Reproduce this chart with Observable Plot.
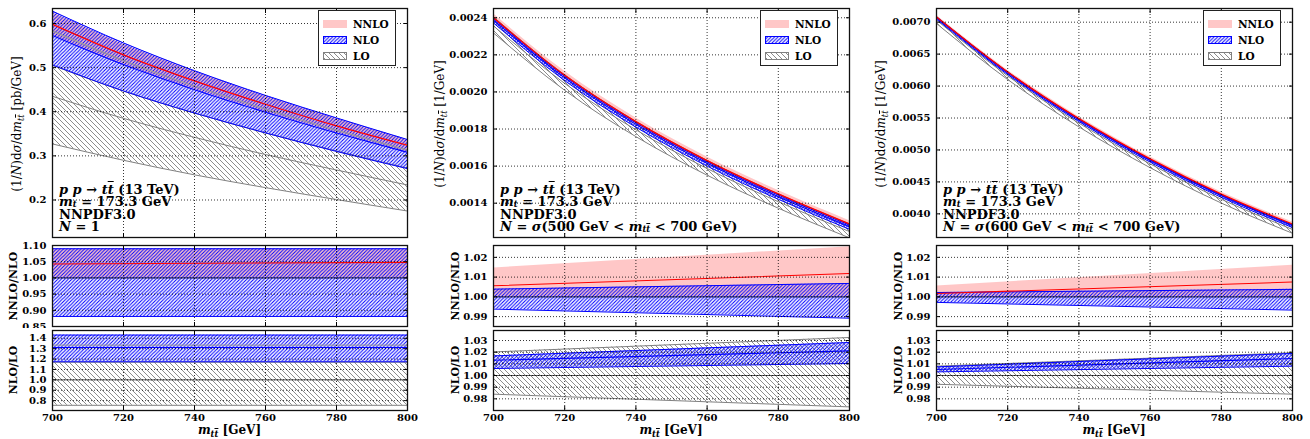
<!DOCTYPE html>
<html><head><meta charset="utf-8">
<script src="https://cdn.jsdelivr.net/npm/d3@7"></script>
<script src="https://cdn.jsdelivr.net/npm/@observablehq/plot@0.6"></script>
<style>
body{margin:0;background:#fff;}
#wrap{position:relative;width:1310px;height:439px;overflow:hidden;font-family:"DejaVu Serif",serif;color:#000;}
.pl{position:absolute;}
.rot{position:absolute;transform:translate(-50%,-50%) rotate(-90deg);white-space:nowrap;line-height:1;}
.ylab{font-size:12px;font-weight:normal;}
.rlab{font-size:11px;font-weight:bold;}
.xlab{position:absolute;transform:translate(-50%,-50%);white-space:nowrap;font-size:12px;font-weight:bold;line-height:1;}
.ann{position:absolute;font-size:13px;font-weight:bold;line-height:11px;height:11px;white-space:nowrap;}
.ann sub{vertical-align:-0.12em;font-size:65%;}
.legend{position:absolute;background:#fff;border:1px solid #222;box-sizing:border-box;}
.lrow{position:absolute;left:4px;height:10px;font-size:10.5px;font-weight:bold;white-space:nowrap;line-height:10px;}
.lrow svg{position:absolute;left:0;top:1px;}
.lrow span{position:absolute;left:30px;top:0;}
sub{font-size:70%;vertical-align:-0.3em;line-height:0;}
.ob{text-decoration:overline;}
</style></head><body><div id="wrap"></div>
<script>
// ---------- data ----------
const mtt = [700, 720, 740, 760, 780, 800];
const mttEnds = [700, 800];
const xTicks = [700, 720, 740, 760, 780, 800];

// Panel 1 : N = 1  [pb/GeV]
const p1LoLower   = [0.327, 0.290, 0.257, 0.228, 0.201, 0.175];
const p1LoCentral = [0.435, 0.385, 0.342, 0.303, 0.268, 0.234];
const p1LoUpper   = [0.505, 0.447, 0.397, 0.352, 0.311, 0.272];
const p1NloLower  = [0.506, 0.447, 0.397, 0.352, 0.310, 0.271];
const p1NloCentral= [0.573, 0.507, 0.450, 0.399, 0.352, 0.308];
const p1NloUpper  = [0.628, 0.556, 0.493, 0.437, 0.386, 0.337];
const p1NnloLower = [0.574, 0.508, 0.451, 0.400, 0.353, 0.309];
const p1NnloCentral=[0.598, 0.529, 0.470, 0.417, 0.368, 0.324];
const p1NnloUpper = [0.625, 0.553, 0.491, 0.435, 0.384, 0.336];
const p1GreyLine  = [0.583, 0.516, 0.458, 0.406, 0.358, 0.313];
// ratios panel 1 (at 700, 800)
const p1R1NloLower = [0.881, 0.881];
const p1R1NloUpper = [1.090, 1.090];
const p1R1NnloLower = [1.000, 1.000];
const p1R1NnloUpper = [1.090, 1.090];
const p1R1NnloCentral = [1.043, 1.048];
const p1R2LoLower = [0.755, 0.755];
const p1R2LoUpper = [1.170, 1.170];
const p1R2NloLower = [1.174, 1.174];
const p1R2NloUpper = [1.431, 1.431];
const p1R2NloCentral = [1.312, 1.312];
const p1R2GreyLine = [1.334, 1.334];

// Panel 2 : N = sigma(500 < mtt < 700)  [1/GeV]
const p2LoLower   = [0.002318, 0.002009, 0.001759, 0.001551, 0.001373, 0.001213];
const p2LoCentral = [0.002356, 0.002046, 0.001796, 0.001587, 0.001408, 0.001247];
const p2LoUpper   = [0.002404, 0.002092, 0.001841, 0.001631, 0.001450, 0.001288];
const p2NloLower  = [0.002372, 0.002061, 0.001810, 0.001600, 0.001421, 0.001259];
const p2NloCentral= [0.002387, 0.002076, 0.001825, 0.001615, 0.001435, 0.001273];
const p2NloUpper  = [0.002396, 0.002085, 0.001834, 0.001624, 0.001444, 0.001282];
const p2NnloLower = [0.002387, 0.002076, 0.001825, 0.001615, 0.001435, 0.001273];
const p2NnloCentral=[0.002400, 0.002090, 0.001840, 0.001630, 0.001450, 0.001288];
const p2NnloUpper = [0.002422, 0.002111, 0.001859, 0.001649, 0.001468, 0.001305];
const p2R1NloLower = [0.9938, 0.9892];
const p2R1NloUpper = [1.0039, 1.0068];
const p2R1NnloLower = [1.0000, 1.0000];
const p2R1NnloUpper = [1.0146, 1.0254];
const p2R1NnloCentral = [1.0056, 1.0118];
const p2R2LoLower = [0.9840, 0.9731];
const p2R2LoUpper = [1.0202, 1.0326];
const p2R2NloLower = [1.0060, 1.0103];
const p2R2NloUpper = [1.0168, 1.0283];
const p2R2NloCentral = [1.0131, 1.0211];

// Panel 3 : N = sigma(600 < mtt < 700)  [1/GeV]
const p3LoLower   = [0.006979, 0.006102, 0.005361, 0.004723, 0.004169, 0.003696];
const p3LoCentral = [0.007032, 0.006159, 0.005420, 0.004783, 0.004229, 0.003756];
const p3LoUpper   = [0.007088, 0.006222, 0.005488, 0.004854, 0.004302, 0.003829];
const p3NloLower  = [0.007048, 0.006180, 0.005444, 0.004810, 0.004258, 0.003785];
const p3NloCentral= [0.007068, 0.006202, 0.005468, 0.004835, 0.004283, 0.003811];
const p3NloUpper  = [0.007084, 0.006218, 0.005483, 0.004850, 0.004298, 0.003825];
const p3NnloLower = [0.007068, 0.006202, 0.005468, 0.004835, 0.004283, 0.003811];
const p3NnloCentral=[0.007080, 0.006220, 0.005490, 0.004860, 0.004310, 0.003840];
const p3NnloUpper = [0.007107, 0.006249, 0.005521, 0.004892, 0.004343, 0.003872];
const p3R1NloLower = [0.9972, 0.9933];
const p3R1NloUpper = [1.0022, 1.0038];
const p3R1NnloLower = [1.0000, 1.0000];
const p3R1NnloUpper = [1.0055, 1.0160];
const p3R1NnloCentral = [1.0017, 1.0075];
const p3R2LoLower = [0.9925, 0.9840];
const p3R2LoUpper = [1.0080, 1.0195];
const p3R2NloLower = [1.0031, 1.0080];
const p3R2NloUpper = [1.0074, 1.0189];
const p3R2NloCentral = [1.0051, 1.0146];

// ticks
const p1MainTicks = [0.2, 0.3, 0.4, 0.5, 0.6];
const p1R1Ticks = [0.85, 0.90, 0.95, 1.00, 1.05, 1.10];
const p1R2Ticks = [0.8, 0.9, 1.0, 1.1, 1.2, 1.3, 1.4];
const p2MainTicks = [0.0014, 0.0016, 0.0018, 0.0020, 0.0022, 0.0024];
const p3MainTicks = [0.0040, 0.0045, 0.0050, 0.0055, 0.0060, 0.0065, 0.0070];
const r1Ticks = [0.99, 1.00, 1.01, 1.02];
const r2Ticks = [0.98, 0.99, 1.00, 1.01, 1.02, 1.03];

// labels
const legendLabels = ["NNLO", "NLO", "LO"];
const normLabels = ["<i>N</i> = 1",
  "<i>N</i> = <i>σ</i>(500 GeV &lt; <i>m</i><sub><i>t<span class='ob'>t</span></i></sub> &lt; 700 GeV)",
  "<i>N</i> = <i>σ</i>(600 GeV &lt; <i>m</i><sub><i>t<span class='ob'>t</span></i></sub> &lt; 700 GeV)"];
const unitLabels = ["[pb/GeV]", "[1/GeV]", "[1/GeV]"];

// ---------- drawing ----------
const wrap = document.getElementById("wrap");
const NS = "http://www.w3.org/2000/svg";
const BLUE = "#0000ff", RED = "#ff0000", GREY = "#808080";

// shared hatch patterns
(function(){
  const s = document.createElementNS(NS, "svg");
  s.setAttribute("width", "0"); s.setAttribute("height", "0");
  s.style.position = "absolute";
  s.innerHTML = `<defs>
    <pattern id="hatchNLO" patternUnits="userSpaceOnUse" width="3.5" height="3.5">
      <path d="M-1,1 L1,-1 M0,3.5 L3.5,0 M2.5,4.5 L4.5,2.5" stroke="${BLUE}" stroke-width="1.05" fill="none"/>
    </pattern>
    <pattern id="hatchLO" patternUnits="userSpaceOnUse" width="5" height="5">
      <path d="M-1,4 L1,6 M0,0 L5,5 M4,-1 L6,1" stroke="${GREY}" stroke-width="0.9" fill="none"/>
    </pattern></defs>`;
  wrap.appendChild(s);
})();

const band = (xs, lo, hi) => xs.map((x, i) => ({x, lo: lo[i], hi: hi[i]}));
const ser = (xs, ys) => xs.map((x, i) => ({x, y: ys[i]}));
const area = (d, fill, o = {}) => Plot.areaY(d, {x: "x", y1: "lo", y2: "hi", fill, curve: "monotone-x", clip: true, ...o});
const line = (d, stroke, w = 1, o = {}) => Plot.lineY(d, {x: "x", y: "y", stroke, strokeWidth: w, curve: "monotone-x", clip: true, ...o});

function subplot({w, h, mt, mb, ml, mr, ydomain, yticks, yfmt, showX, marks}) {
  return Plot.plot({
    width: w, height: h, marginTop: mt, marginBottom: mb, marginLeft: ml, marginRight: mr,
    x: {domain: [700, 800], axis: null, label: null},
    y: {domain: ydomain, axis: null, label: null},
    style: {fontFamily: "DejaVu Serif", fontSize: "10px", fontWeight: "bold", background: "white", color: "black", overflow: "visible"},
    marks: [
      ...marks,
      Plot.ruleX(xTicks.slice(1, -1), {stroke: "#000", strokeWidth: 0.8, strokeDasharray: "1,2"}),
      Plot.ruleY(yticks, {stroke: "#000", strokeWidth: 0.8, strokeDasharray: "1,2"}),
      Plot.axisY(yticks, {anchor: "left", tickSize: 0, tickPadding: 6, tickFormat: yfmt, label: null}),
      Plot.axisY(yticks, {anchor: "left", tickSize: -4, fill: "none", label: null}),
      Plot.axisY(yticks, {anchor: "right", tickSize: -4, fill: "none", label: null}),
      Plot.axisX(xTicks, {anchor: "bottom", tickSize: -4, fill: "none", label: null}),
      Plot.axisX(xTicks, {anchor: "top", tickSize: -4, fill: "none", label: null}),
      showX ? Plot.axisX(xTicks, {anchor: "bottom", tickSize: 0, tickPadding: 3, label: null}) : null,
      Plot.frame({stroke: "#111", strokeWidth: 1.3})
    ]
  });
}

function place(node, left, top) {
  const d = document.createElement("div");
  d.className = "pl"; d.style.left = left + "px"; d.style.top = top + "px";
  d.appendChild(node); wrap.appendChild(d);
}
function html(cls, left, top, inner, extraStyle = "") {
  const d = document.createElement("div");
  d.className = cls; d.style.left = left + "px"; d.style.top = top + "px";
  if (extraStyle) d.style.cssText += extraStyle;
  d.innerHTML = inner; wrap.appendChild(d); return d;
}

const panels = [
  {L: 52, R: 407, ml: 52, mr: 14, ylx: 17, rlx: 13,
   main: {dom: [0.115, 0.634], ticks: p1MainTicks, fmt: d3.format(".1f"),
     lo: [p1LoLower, p1LoCentral, p1LoUpper], nlo: [p1NloLower, p1NloCentral, p1NloUpper],
     nnlo: [p1NnloLower, p1NnloCentral, p1NnloUpper], grey: p1GreyLine},
   r1: {dom: [0.85, 1.10], ticks: p1R1Ticks, fmt: d3.format(".2f"),
     nlo: [p1R1NloLower, p1R1NloUpper], nnlo: [p1R1NnloLower, p1R1NnloCentral, p1R1NnloUpper]},
   r2: {dom: [0.705, 1.475], ticks: p1R2Ticks, fmt: d3.format(".1f"),
     lo: [p1R2LoLower, p1R2LoUpper], nlo: [p1R2NloLower, p1R2NloCentral, p1R2NloUpper], grey: p1R2GreyLine}},
  {L: 493, R: 849, ml: 60, mr: 12, ylx: 440, rlx: 455,
   main: {dom: [0.001215, 0.00245], ticks: p2MainTicks, fmt: d3.format(".4f"),
     lo: [p2LoLower, p2LoCentral, p2LoUpper], nlo: [p2NloLower, p2NloCentral, p2NloUpper],
     nnlo: [p2NnloLower, p2NnloCentral, p2NnloUpper]},
   r1: {dom: [0.985, 1.026], ticks: r1Ticks, fmt: d3.format(".2f"),
     nlo: [p2R1NloLower, p2R1NloUpper], nnlo: [p2R1NnloLower, p2R1NnloCentral, p2R1NnloUpper]},
   r2: {dom: [0.970, 1.0386], ticks: r2Ticks, fmt: d3.format(".2f"),
     lo: [p2R2LoLower, p2R2LoUpper], nlo: [p2R2NloLower, p2R2NloCentral, p2R2NloUpper]}},
  {L: 936, R: 1292, ml: 62, mr: 15, ylx: 881, rlx: 898,
   main: {dom: [0.00363, 0.007214], ticks: p3MainTicks, fmt: d3.format(".4f"),
     lo: [p3LoLower, p3LoCentral, p3LoUpper], nlo: [p3NloLower, p3NloCentral, p3NloUpper],
     nnlo: [p3NnloLower, p3NnloCentral, p3NnloUpper]},
   r1: {dom: [0.985, 1.026], ticks: r1Ticks, fmt: d3.format(".2f"),
     nlo: [p3R1NloLower, p3R1NloUpper], nnlo: [p3R1NnloLower, p3R1NnloCentral, p3R1NnloUpper]},
   r2: {dom: [0.970, 1.0386], ticks: r2Ticks, fmt: d3.format(".2f"),
     lo: [p3R2LoLower, p3R2LoUpper], nlo: [p3R2NloLower, p3R2NloCentral, p3R2NloUpper]}}
];

panels.forEach((p, k) => {
  const w = p.R - p.L + p.ml + p.mr, left = p.L - p.ml;
  const m = p.main;
  const mainMarks = [
    area(band(mtt, m.lo[0], m.lo[2]), "url(#hatchLO)"),
    line(ser(mtt, m.lo[0]), GREY), line(ser(mtt, m.lo[2]), GREY), line(ser(mtt, m.lo[1]), GREY),
    area(band(mtt, m.nnlo[0], m.nnlo[2]), RED, {fillOpacity: 0.22}),
    area(band(mtt, m.nlo[0], m.nlo[2]), "url(#hatchNLO)"),
    line(ser(mtt, m.nlo[0]), BLUE), line(ser(mtt, m.nlo[2]), BLUE),
    m.grey ? line(ser(mtt, m.grey), "#999", 1.4, {strokeOpacity: 0.8}) : null,
    line(ser(mtt, m.nlo[1]), BLUE, 1.1),
    line(ser(mtt, m.nnlo[1]), RED, 1.3)
  ];
  place(subplot({w, h: 238, mt: 8, mb: 1, ml: p.ml, mr: p.mr, ydomain: m.dom, yticks: m.ticks, yfmt: m.fmt, showX: false, marks: mainMarks}), left, 0);

  const r1 = p.r1;
  const r1Marks = [
    area(band(mttEnds, r1.nnlo[0], r1.nnlo[2]), RED, {fillOpacity: 0.22}),
    area(band(mttEnds, r1.nlo[0], r1.nlo[1]), "url(#hatchNLO)"),
    line(ser(mttEnds, r1.nlo[0]), BLUE), line(ser(mttEnds, r1.nlo[1]), BLUE),
    Plot.ruleY([1], {stroke: "#141460", strokeWidth: 1}),
    line(ser(mttEnds, r1.nnlo[1]), RED, 1.1)
  ];
  place(subplot({w, h: 89, mt: 6, mb: 2, ml: p.ml, mr: p.mr, ydomain: r1.dom, yticks: r1.ticks, yfmt: r1.fmt, showX: false, marks: r1Marks}), left, 239);

  const r2 = p.r2;
  const r2Marks = [
    area(band(mttEnds, r2.lo[0], r2.lo[1]), "url(#hatchLO)"),
    line(ser(mttEnds, r2.lo[0]), GREY), line(ser(mttEnds, r2.lo[1]), GREY),
    Plot.ruleY([1], {stroke: "#555", strokeWidth: 1}),
    area(band(mttEnds, r2.nlo[0], r2.nlo[2]), "url(#hatchNLO)"),
    line(ser(mttEnds, r2.nlo[0]), BLUE), line(ser(mttEnds, r2.nlo[2]), BLUE),
    r2.grey ? line(ser(mttEnds, r2.grey), "#999", 1.4, {strokeOpacity: 0.8}) : null,
    line(ser(mttEnds, r2.nlo[1]), BLUE, 1.1)
  ];
  place(subplot({w, h: 111, mt: 2, mb: 29, ml: p.ml, mr: p.mr, ydomain: r2.dom, yticks: r2.ticks, yfmt: r2.fmt, showX: true, marks: r2Marks}), left, 328);

  // axis titles
  html("rot ylab", p.ylx, 124, `(1/<i>N</i>)d<i>σ</i>/d<i>m</i><sub><i>t<span class='ob'>t</span></i></sub> ${unitLabels[k]}`);
  html("rot rlab", p.rlx, 286, "NNLO/NLO");
  html("rot rlab", p.rlx, 370, "NLO/LO");
  html("xlab", (p.L + p.R) / 2, 430, `<i>m</i><sub><i>t<span class='ob'>t</span></i></sub> [GeV]`);

  // annotation (4 lines, 12.5 px apart)
  const ax = p.L + 7;
  const lines = [
    `<i>p p</i> → <i>t<span class='ob'>t</span></i> (13 TeV)`,
    `<i>m<sub>t</sub></i> = 173.3 GeV`,
    `NNPDF3.0`,
    normLabels[k]
  ];
  lines.forEach((t, i) => html("ann", ax, 193.5 + 12.5 * i - 9.9, t));

  // legend
  const lg = html("legend", p.R - 89, 10, "", "width:78px;height:56px;");
  const sw = [
    `<rect x="0" y="0" width="24" height="8" fill="${RED}" fill-opacity="0.22"/>`,
    `<rect x="0.5" y="0.5" width="23" height="7" fill="url(#hatchNLO)" stroke="${BLUE}" stroke-width="1"/>`,
    `<rect x="0.5" y="0.5" width="23" height="7" fill="url(#hatchLO)" stroke="${GREY}" stroke-width="1"/>`
  ];
  legendLabels.forEach((lab, i) => {
    const r = document.createElement("div");
    r.className = "lrow"; r.style.top = (8 + 16 * i) + "px";
    r.innerHTML = `<svg width="24" height="8">${sw[i]}</svg><span>${lab}</span>`;
    lg.appendChild(r);
  });
});
</script></body></html>
